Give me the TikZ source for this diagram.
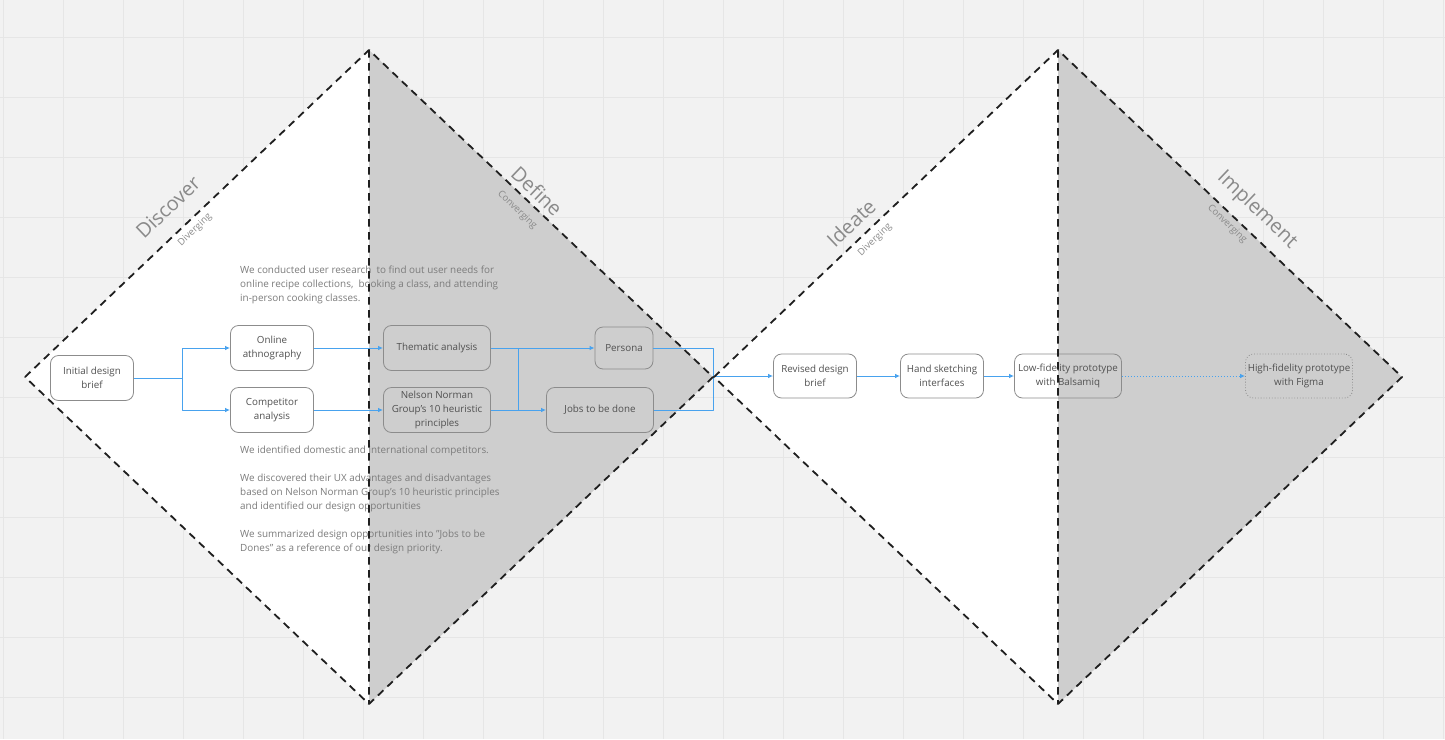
\documentclass[tikz,border=0pt]{standalone}
\usepackage{fontspec}
\setmainfont{Open Sans}
\usetikzlibrary{arrows.meta}
\definecolor{canvas}{HTML}{F2F2F2}
\definecolor{gridgray}{HTML}{E6E6E6}
\definecolor{halfgray}{HTML}{CECECE}
\definecolor{boxgray}{HTML}{8C8C8C}
\definecolor{textgray}{HTML}{505050}
\definecolor{notegray}{HTML}{7C7C7C}
\definecolor{titlegray}{HTML}{8A8A8A}
\definecolor{flowblue}{HTML}{48A2EE}
\tikzset{
  stage/.style={draw=boxgray, line width=0.8pt, rounded corners=8pt, minimum width=83pt, minimum height=45pt,
    align=center, inner sep=2pt, text=textgray, font=\fontsize{9.8}{14}\selectfont},
  widestage/.style={stage, minimum width=107pt},
  flowline/.style={draw=flowblue, line width=1pt},
  flow/.style={flowline, -{Latex[length=5pt,width=4.5pt]}},
  rim/.style={draw=black!88, line width=1.8pt, dash pattern=on 7.5pt off 5.5pt},
  phasename/.style={text=titlegray, font=\fontsize{20}{24}\selectfont, inner sep=0pt},
  phasemode/.style={text=titlegray, font=\fontsize{9.5}{11}\selectfont, inner sep=0pt},
  note/.style={text=notegray, align=left, anchor=north west, inner sep=0pt, font=\fontsize{9.9}{14}\selectfont},
}
\begin{document}
\begin{tikzpicture}[x=1pt, y=-1pt, line join=round]
	\fill[canvas] (0,0) rectangle (1445,739);
	\useasboundingbox (0,0) rectangle (1445,739);
	% grid
	\foreach \gx in {3,63,...,1443} \draw[gridgray, line width=0.6pt] (\gx,0) -- (\gx,739);
	\foreach \gy in {37,97,...,737} \draw[gridgray, line width=0.6pt] (0,\gy) -- (1445,\gy);
	% the two diamonds
	\coordinate (aL) at (25,377); \coordinate (aT) at (369,50); \coordinate (aR) at (713,377); \coordinate (aB) at (369,704);
	\coordinate (bL) at (714,377); \coordinate (bT) at (1058,50); \coordinate (bR) at (1402,377); \coordinate (bB) at (1058,704);
	\fill[white] (aL) -- (aT) -- (aB) -- cycle;
	\fill[halfgray] (aT) -- (aR) -- (aB) -- cycle;
	\fill[white] (bL) -- (bT) -- (bB) -- cycle;
	\fill[halfgray] (bT) -- (bR) -- (bB) -- cycle;
	% notes
	\node[note] (research) at (240,266) {We conducted user research\ \ to find out user needs for\\
		online recipe collections,\ \ booking a class, and attending\\
		in-person cooking classes.};
	\node[note] (findings) at (240,446) {We identified domestic and international competitors.\\[14pt]
		We discovered their UX advantages and disadvantages\\
		based on Nelson Norman Group's 10 heuristic principles\\
		and identified our design opportunities\\[14pt]
		We summarized design opportunities into "Jobs to be\\
		Dones" as a reference of our design priority.};
	% stages
	\node[stage] (initial) at (92,378) {Initial design\\brief};
	\node[stage] (online) at (272,348) {Online\\athnography};
	\node[stage] (competitor) at (272,410) {Competitor\\analysis};
	\node[widestage] (thematic) at (437,348) {Thematic analysis};
	\node[widestage] (nelson) at (437,410) {Nelson Norman\\Group's 10 heuristic\\principles};
	\node[stage, minimum width=58pt, minimum height=42pt] (persona) at (624,348) {Persona};
	\node[widestage] (jobs) at (600,410) {Jobs to be done};
	\node[stage, minimum height=44pt] (revised) at (815,376) {Revised design\\brief};
	\node[stage, minimum height=44pt] (sketch) at (942,376) {Hand sketching\\interfaces};
	\node[widestage, minimum height=44pt] (lowfi) at (1068,376) {Low-fidelity prototype\\with Balsamiq};
	\node[widestage, minimum height=44pt, dotted] (hifi) at (1299,376) {High-fidelity prototype\\with Figma};
	% connectors
	\coordinate (split) at (182,378);
	\coordinate (tap) at (518,348);
	\coordinate (merge) at (713,376);
	\draw[flowline] (initial) -- (split);
	\draw[flow] (split) |- (online);
	\draw[flow] (split) |- (competitor);
	\draw[flow] (online) -- (thematic);
	\draw[flow] (competitor) -- (nelson);
	\draw[flow] (thematic) -- (persona);
	\draw[flowline] (tap) -- (tap |- nelson.east);
	\draw[flow] (nelson) -- (jobs);
	\draw[flowline] (persona.east) -| (merge);
	\draw[flowline] (jobs.east) -| (merge);
	\draw[flow] (merge) -- (revised);
	\draw[flow] (revised) -- (sketch);
	\draw[flow] (sketch) -- (lowfi);
	\draw[flow, dotted] (lowfi) -- (hifi);
	% dashed outlines
	\draw[rim] (aL) -- (aT) -- (aR) -- (aB) -- cycle (aT) -- (aB);
	\draw[rim] (bL) -- (bT) -- (bR) -- (bB) -- cycle (bT) -- (bB);
	% phase labels
	\node[phasename, rotate=43.6] (discover) at (168,207) {Discover};
	\node[phasemode, rotate=43.6] (discovermode) at (195,230) {Diverging};
	\node[phasename, rotate=-43.6] (define) at (537,191) {Define};
	\node[phasemode, rotate=-43.6] (definemode) at (517,210) {Converging};
	\node[phasename, rotate=43.6] (ideate) at (851,223) {Ideate};
	\node[phasemode, rotate=43.6] (ideatemode) at (875,240) {Diverging};
	\node[phasename, rotate=-43.6] (implement) at (1257,210) {Implement};
	\node[phasemode, rotate=-43.6] (implementmode) at (1227,224) {Converging};
\end{tikzpicture}
\end{document}
